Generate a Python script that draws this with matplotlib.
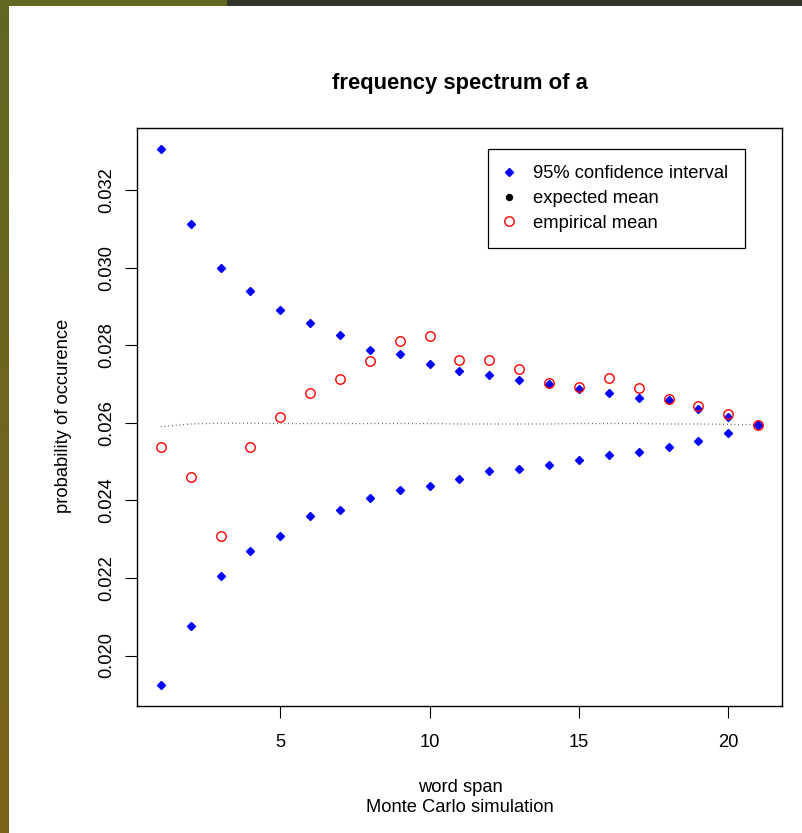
import numpy as np
import matplotlib
matplotlib.use('Agg')
import matplotlib.pyplot as plt
from matplotlib.lines import Line2D
from matplotlib.patches import Rectangle

plt.rcParams['font.family'] = ['Liberation Sans', 'DejaVu Sans']

# ---- data ----
span = list(range(1, 22))
upper_ci = [0.03305, 0.03113, 0.02999, 0.02940, 0.02890, 0.02858, 0.02826,
            0.02787, 0.02777, 0.02751, 0.02733, 0.02723, 0.02710, 0.02699,
            0.02687, 0.02677, 0.02664, 0.02660, 0.02635, 0.02615, 0.02595]
lower_ci = [0.01925, 0.02077, 0.02205, 0.02269, 0.02308, 0.02359, 0.02374,
            0.02405, 0.02426, 0.02436, 0.02454, 0.02475, 0.02480, 0.02490,
            0.02503, 0.02518, 0.02525, 0.02538, 0.02554, 0.02573, 0.02595]
empirical_mean = [0.02538, 0.02461, 0.02308, 0.02538, 0.02614, 0.02678, 0.02712,
                  0.02759, 0.02810, 0.02823, 0.02761, 0.02761, 0.02738, 0.02702,
                  0.02692, 0.02716, 0.02691, 0.02661, 0.02643, 0.02623, 0.02595]
expected_mean = [0.02590, 0.02597, 0.02599, 0.02599, 0.02598, 0.02598, 0.02598,
                 0.02598, 0.02598, 0.02598, 0.02597, 0.02597, 0.02597, 0.02597,
                 0.02598, 0.02598, 0.02598, 0.02597, 0.02597, 0.02596, 0.02595]
x_ticks = [5, 10, 15, 20]
y_ticks = [0.020, 0.022, 0.024, 0.026, 0.028, 0.030, 0.032]
y_tick_labels = ['0.020', '0.022', '0.024', '0.026', '0.028', '0.030', '0.032']
legend_labels = ['95% confidence interval', 'expected mean', 'empirical mean']

FS = 13.2
W, H = 803, 833
fig = plt.figure(figsize=(W / 100, H / 100), dpi=100)
fig.patch.set_facecolor('white')

# ---- slide frame ----
grad_ax = fig.add_axes([0, 0, 9 / W, 1 - 6 / H])
grad_ax.set_axis_off()
top_c = np.array([0x62, 0x68, 0x21]) / 255
bot_c = np.array([0x7b, 0x64, 0x17]) / 255
t = np.linspace(0, 1, 200)[:, None]
grad = (top_c[None, :] * (1 - t) + bot_c[None, :] * t)[:, None, :]
grad_ax.imshow(grad, aspect='auto', extent=[0, 1, 0, 1])
fig.patches.append(Rectangle((0, 1 - 6 / H), 227 / W, 6 / H, transform=fig.transFigure,
                             facecolor='#62681f', edgecolor='none', zorder=5))
fig.patches.append(Rectangle((227 / W, 1 - 6 / H), 1 - 227 / W, 6 / H, transform=fig.transFigure,
                             facecolor='#31352a', edgecolor='none', zorder=5))

# ---- main plot ----
ax = fig.add_axes([137 / W, 1 - 706 / H, (782 - 137) / W, (706 - 128) / H])
all_vals = upper_ci + lower_ci + empirical_mean + expected_mean
lo, hi = min(all_vals), max(all_vals)
pad = (hi - lo) * 0.04
ax.set_ylim(lo - pad, hi + pad)
xr = max(span) - min(span)
ax.set_xlim(min(span) - 0.04 * xr, max(span) + 0.04 * xr)

ax.plot(span, expected_mean, color='#333333', lw=0.9, linestyle=(0, (0.6, 2.4)))
ax.plot(span, upper_ci, linestyle='none', marker='D', color='blue', ms=4.3, mec='blue')
ax.plot(span, lower_ci, linestyle='none', marker='D', color='blue', ms=4.3, mec='blue')
ax.plot(span, empirical_mean, linestyle='none', marker='o', mfc='none', mec='red', ms=6.8, mew=1.0)

ax.set_xticks(x_ticks)
ax.set_xticklabels([str(v) for v in x_ticks])
ax.set_yticks(y_ticks)
ax.set_yticklabels(y_tick_labels, rotation=90, va='center')
ax.tick_params(axis='both', direction='out', length=8.5, width=0.8, labelsize=FS, color='black')
ax.tick_params(axis='x', pad=11.5)
ax.tick_params(axis='y', pad=7)
for s in ax.spines.values():
    s.set_linewidth(1.0)
    s.set_color('black')

handles = [
    Line2D([], [], linestyle='none', marker='D', color='blue', ms=4.3),
    Line2D([], [], linestyle='none', marker='o', color='black', ms=4.3),
    Line2D([], [], linestyle='none', marker='o', mfc='none', mec='red', ms=6.8, mew=1.0),
]
leg = ax.legend(handles, legend_labels, loc='upper right',
                bbox_to_anchor=(745 / W, 1 - 149 / H), bbox_transform=fig.transFigure,
                borderaxespad=0, fancybox=False, edgecolor='black', framealpha=1,
                fontsize=FS, handlelength=0.55, handletextpad=1.05, labelspacing=0.42,
                borderpad=0.9)
leg.get_frame().set_linewidth(0.9)

fig.text(460 / W, 1 - 84 / H, 'frequency spectrum of a', ha='center', va='center',
         fontsize=FS * 1.2, fontweight='bold')
fig.text(460 / W, 1 - 787 / H, 'word span', ha='center', va='center', fontsize=FS)
fig.text(460 / W, 1 - 808 / H, 'Monte Carlo simulation', ha='center', va='center', fontsize=FS)
fig.text(64 / W, 1 - 416 / H, 'probability of occurence', ha='center', va='center',
         rotation=90, fontsize=FS)

fig.savefig('out.png', dpi=100)
